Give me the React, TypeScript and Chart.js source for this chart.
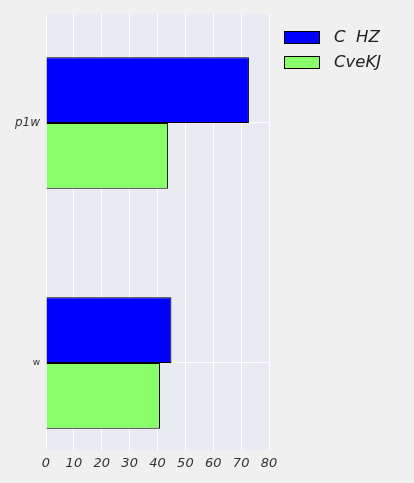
import React, { useEffect, useRef } from "react";
import { Chart, registerables } from "chart.js";

Chart.register(...registerables);

const categories = ["p1w", "w"];
const seriesNames = ["C  HZ", "CveKJ"];
const seriesC_HZ = [72.8, 45.0];
const seriesCveKJ = [43.8, 40.9];
const xTicks = [0, 10, 20, 30, 40, 50, 60, 70, 80];
const colors = ["#0000FF", "#88FF6A"];

const bgPlugin = {
  id: "bgPlugin",
  beforeDraw(chart: any) {
    const { ctx, chartArea } = chart;
    ctx.save();
    ctx.fillStyle = "#F0F0F0";
    ctx.fillRect(0, 0, chart.width, chart.height);
    ctx.fillStyle = "#EAEAF2";
    ctx.fillRect(chartArea.left, chartArea.top, chartArea.right - chartArea.left, chartArea.bottom - chartArea.top);
    ctx.restore();
  },
};

const legendPlugin = {
  id: "customLegend",
  afterDraw(chart: any) {
    const { ctx, chartArea } = chart;
    ctx.save();
    const x0 = chartArea.right + 15;
    chart.data.datasets.forEach((ds: any, i: number) => {
      const y = 31 + i * 25;
      ctx.fillStyle = ds.backgroundColor;
      ctx.fillRect(x0, y, 36, 13);
      ctx.strokeStyle = "#000";
      ctx.lineWidth = 1;
      ctx.strokeRect(x0 + 0.5, y + 0.5, 35, 12);
      ctx.fillStyle = "#222";
      ctx.font = "italic 16.5px 'DejaVu Sans'";
      ctx.textBaseline = "middle";
      ctx.fillText(ds.label, x0 + 50, y + 7);
    });
    ctx.restore();
  },
};

export default function App() {
  const ref = useRef<HTMLCanvasElement>(null);
  useEffect(() => {
    document.body.style.margin = "0";
    document.body.style.background = "#F0F0F0";
    const chart = new Chart(ref.current!, {
      type: "bar",
      data: {
        datasets: [
          {
            label: seriesNames[0],
            data: seriesC_HZ.map((v, i) => ({ x: v, y: i })),
            backgroundColor: colors[0],
            borderColor: "#000",
            borderWidth: 1,
            categoryPercentage: 0.548,
            barPercentage: 1,
          },
          {
            label: seriesNames[1],
            data: seriesCveKJ.map((v, i) => ({ x: v, y: i })),
            backgroundColor: colors[1],
            borderColor: "#000",
            borderWidth: 1,
            categoryPercentage: 0.548,
            barPercentage: 1,
          },
        ],
      } as any,
      options: {
        indexAxis: "y",
        animation: false,
        responsive: false,
        maintainAspectRatio: false,
        layout: { padding: { top: 14, right: 145, left: 0, bottom: 0 } },
        plugins: { legend: { display: false }, tooltip: { enabled: false } },
        scales: {
          x: {
            type: "linear",
            min: xTicks[0],
            max: xTicks[xTicks.length - 1],
            offset: false,
            border: { display: false },
            grid: { color: "#FFFFFF", lineWidth: 1, drawTicks: false, offset: false },
            afterBuildTicks: (s: any) => {
              s.ticks = xTicks.map((v) => ({ value: v }));
            },
            afterFit: (s: any) => {
              s.height = 33;
            },
            ticks: {
              padding: 6,
              color: "#333",
              font: { family: "'DejaVu Sans'", size: 13, style: "italic" },
              maxRotation: 0,
              autoSkip: false,
            },
          },
          y: {
            type: "linear",
            reverse: true,
            min: -0.454,
            max: 1.3625,
            offset: false,
            border: { display: false },
            grid: { color: "#FFFFFF", lineWidth: 1, drawTicks: false, offset: false },
            afterBuildTicks: (s: any) => {
              s.ticks = categories.map((_, i) => ({ value: i }));
            },
            afterFit: (s: any) => {
              s.width = 46;
            },
            ticks: {
              padding: 6,
              color: "#333",
              autoSkip: false,
              callback: (v: any) => categories[v] ?? "",
              font: (ctx: any) =>
                ctx.index === 0
                  ? { family: "'DejaVu Sans'", size: 12, style: "italic" }
                  : { family: "'DejaVu Sans'", size: 9, style: "normal", weight: "normal" },
            },
          },
        },
      } as any,
      plugins: [bgPlugin, legendPlugin],
    });
    return () => chart.destroy();
  }, []);
  return (
    <div style={{ width: 414, height: 483 }}>
      <canvas ref={ref} width={414} height={483} style={{ display: "block" }} />
    </div>
  );
}
